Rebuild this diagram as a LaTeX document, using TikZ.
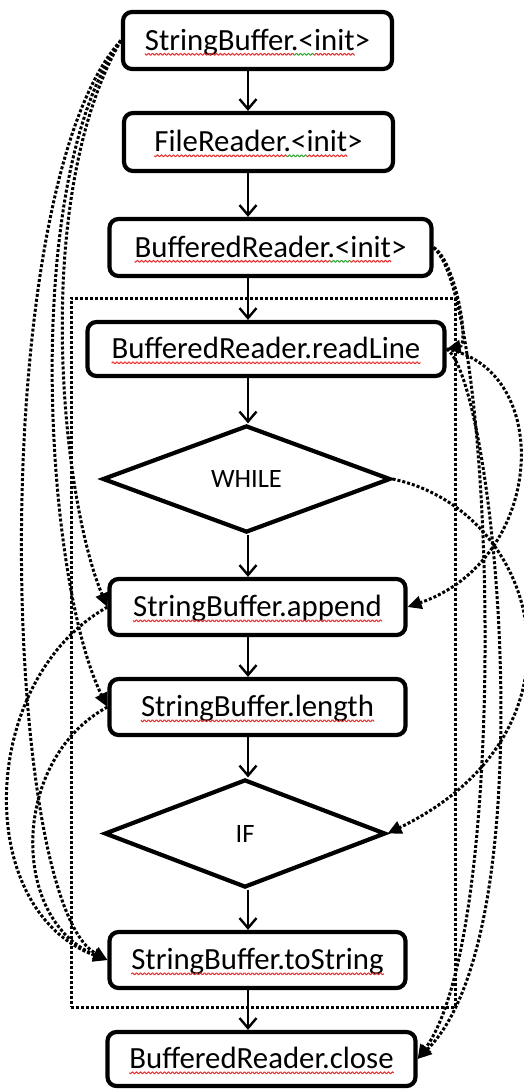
\documentclass[tikz,border=0pt]{standalone}
\usepackage{fontspec}
\setmainfont{Carlito}
\usetikzlibrary{arrows.meta,shapes.geometric,calc}
\newcommand\boxfont{\fontsize{30.8}{36}\selectfont}
\newcommand\diafont{\fontsize{26.5}{31}\selectfont}
\definecolor{spellred}{RGB}{232,45,45}
\definecolor{spellgreen}{RGB}{50,165,50}
\makeatletter
\newlength\tmpw
\newcommand\mw[2]{\settowidth\tmpw{\boxfont #2}\xdef#1{\strip@pt\tmpw}}
\makeatother
% wavy underline: node, full text width, from, to, colour
\newcommand\wave[5]{%
  \pgfmathsetmacro\wva{-#2/2+#3}%
  \pgfmathsetmacro\wvb{-#2/2+#4}%
  \pgfmathtruncatemacro\wvn{#4-#3+2}%
  \begin{scope}[shift={(#1.center)}]
    \draw[#5, line width=1pt, line join=round]
      plot[domain=\wva:\wvb, samples=\wvn, variable=\t] (\t, {13.8+sin(\t*90)});
  \end{scope}}
\begin{document}
\mw\fSBI{StringBuffer.<init>}\mw\aSBI{StringBuffer}\mw\bSBI{StringBuffer.<}\mw\cSBI{StringBuffer.<init}%
\mw\fFRI{FileReader.<init>}\mw\aFRI{FileReader}\mw\bFRI{FileReader.<}\mw\cFRI{FileReader.<init}%
\mw\fBRI{BufferedReader.<init>}\mw\aBRI{BufferedReader}\mw\bBRI{BufferedReader.<}\mw\cBRI{BufferedReader.<init}%
\mw\fRL{BufferedReader.readLine}\mw\fAPP{StringBuffer.append}\mw\fLEN{StringBuffer.length}%
\mw\fTOS{StringBuffer.toString}\mw\fCLS{BufferedReader.close}%
\begin{tikzpicture}[x=1pt,y=-1pt,
  box/.style={draw, line width=4.2pt, rounded corners=9pt, font=\boxfont,
    text height=19.5pt, text depth=0pt, inner sep=0pt, fill=white},
  dia/.style={diamond, draw, line width=4.2pt, font=\diafont,
    text height=17pt, text depth=0pt, inner sep=0pt, fill=white},
  flow/.style={line width=2.4pt, -{Straight Barb[length=10pt,width=17pt]}},
  dep/.style={line width=3pt, dash pattern=on 3pt off 2pt,
    -{Triangle[length=14pt,width=13pt]}},
  loopbox/.style={draw, line width=3pt, dash pattern=on 3pt off 2pt,
    minimum width=384pt, minimum height=709pt, inner sep=0pt}]
\useasboundingbox (0,0) rectangle (523,1092);

% loop frame
\node[loopbox] (loop) at (263,652.5) {};

% nodes
\node[box, minimum width=269pt, minimum height=57pt] (sbi) at (257.5,40.5) {StringBuffer.<init>};
\node[box, minimum width=269pt, minimum height=58pt] (fri) at (258.5,142) {FileReader.<init>};
\node[box, minimum width=322pt, minimum height=57pt] (bri) at (270.5,247.5) {BufferedReader.<init>};
\node[box, minimum width=357pt, minimum height=54pt] (rl) at (266,349) {BufferedReader.readLine};
\node[dia, minimum width=288pt, minimum height=107pt] (wh) at (246.5,479) {WHILE};
\node[box, minimum width=296pt, minimum height=56pt] (app) at (257.5,607) {StringBuffer.append};
\node[box, minimum width=296pt, minimum height=56pt] (len) at (257.5,707) {StringBuffer.length};
\node[dia, minimum width=281pt, minimum height=108pt] (ifd) at (245,833.5) {IF};
\node[box, minimum width=296pt, minimum height=56pt] (tos) at (257.5,960) {StringBuffer.toString};
\node[box, minimum width=308pt, minimum height=54pt] (cls) at (261.5,1059) {BufferedReader.close};

% spell-check underlines
\wave{sbi}{\fSBI}{0}{\aSBI}{spellred}
\wave{sbi}{\fSBI}{\aSBI}{\bSBI}{spellgreen}
\wave{sbi}{\fSBI}{\bSBI}{\cSBI}{spellred}
\wave{fri}{\fFRI}{0}{\aFRI}{spellred}
\wave{fri}{\fFRI}{\aFRI}{\bFRI}{spellgreen}
\wave{fri}{\fFRI}{\bFRI}{\cFRI}{spellred}
\wave{bri}{\fBRI}{0}{\aBRI}{spellred}
\wave{bri}{\fBRI}{\aBRI}{\bBRI}{spellgreen}
\wave{bri}{\fBRI}{\bBRI}{\cBRI}{spellred}
\wave{rl}{\fRL}{0}{\fRL}{spellred}
\wave{app}{\fAPP}{0}{\fAPP}{spellred}
\wave{len}{\fLEN}{0}{\fLEN}{spellred}
\wave{tos}{\fTOS}{0}{\fTOS}{spellred}
\wave{cls}{\fCLS}{0}{\fCLS}{spellred}

% control flow
\coordinate (ax) at (248,0);
\draw[flow] (sbi.south -| ax) -- (fri.north -| ax);
\draw[flow] (fri.south -| ax) -- (bri.north -| ax);
\draw[flow] (bri.south -| ax) -- (rl.north -| ax);
\draw[flow] (rl.south -| ax) -- (wh.north -| ax);
\draw[flow] (wh.south -| ax) -- (app.north -| ax);
\draw[flow] (app.south -| ax) -- (len.north -| ax);
\draw[flow] (len.south -| ax) -- (ifd.north -| ax);
\draw[flow] (ifd.south -| ax) -- (tos.north -| ax);
\draw[flow] (tos.south -| ax) -- (cls.north -| ax);

% data dependencies, left side
\draw[dep] (sbi.west) .. controls (30,200) and (62,500) .. (app.west);
\draw[dep] (sbi.west) .. controls (20,180) and (45,580) .. (len.west);
\draw[dep] (sbi.west) .. controls (-15,190) and (0,900) .. (tos.west);
\draw[dep] (app.west) .. controls (-22,680) and (-28,910) .. (tos.west);
\draw[dep] (len.west) .. controls (10,760) and (10,920) .. (tos.west);

% data dependencies, right side
\draw[dep] (bri.east) .. controls (455,260) and (470,345) .. (rl.east);
\draw[dep] (bri.east) .. controls (495,300) and (512,930) .. (cls.east);
\draw[dep] (rl.east) .. controls (495,380) and (548,930) .. (cls.east);
\draw[dep] (rl.east) .. controls (555,370) and (545,560) .. (app.east);
\draw[dep] (wh.east) .. controls (540,510) and (600,730) .. (ifd.east);
\end{tikzpicture}
\end{document}
